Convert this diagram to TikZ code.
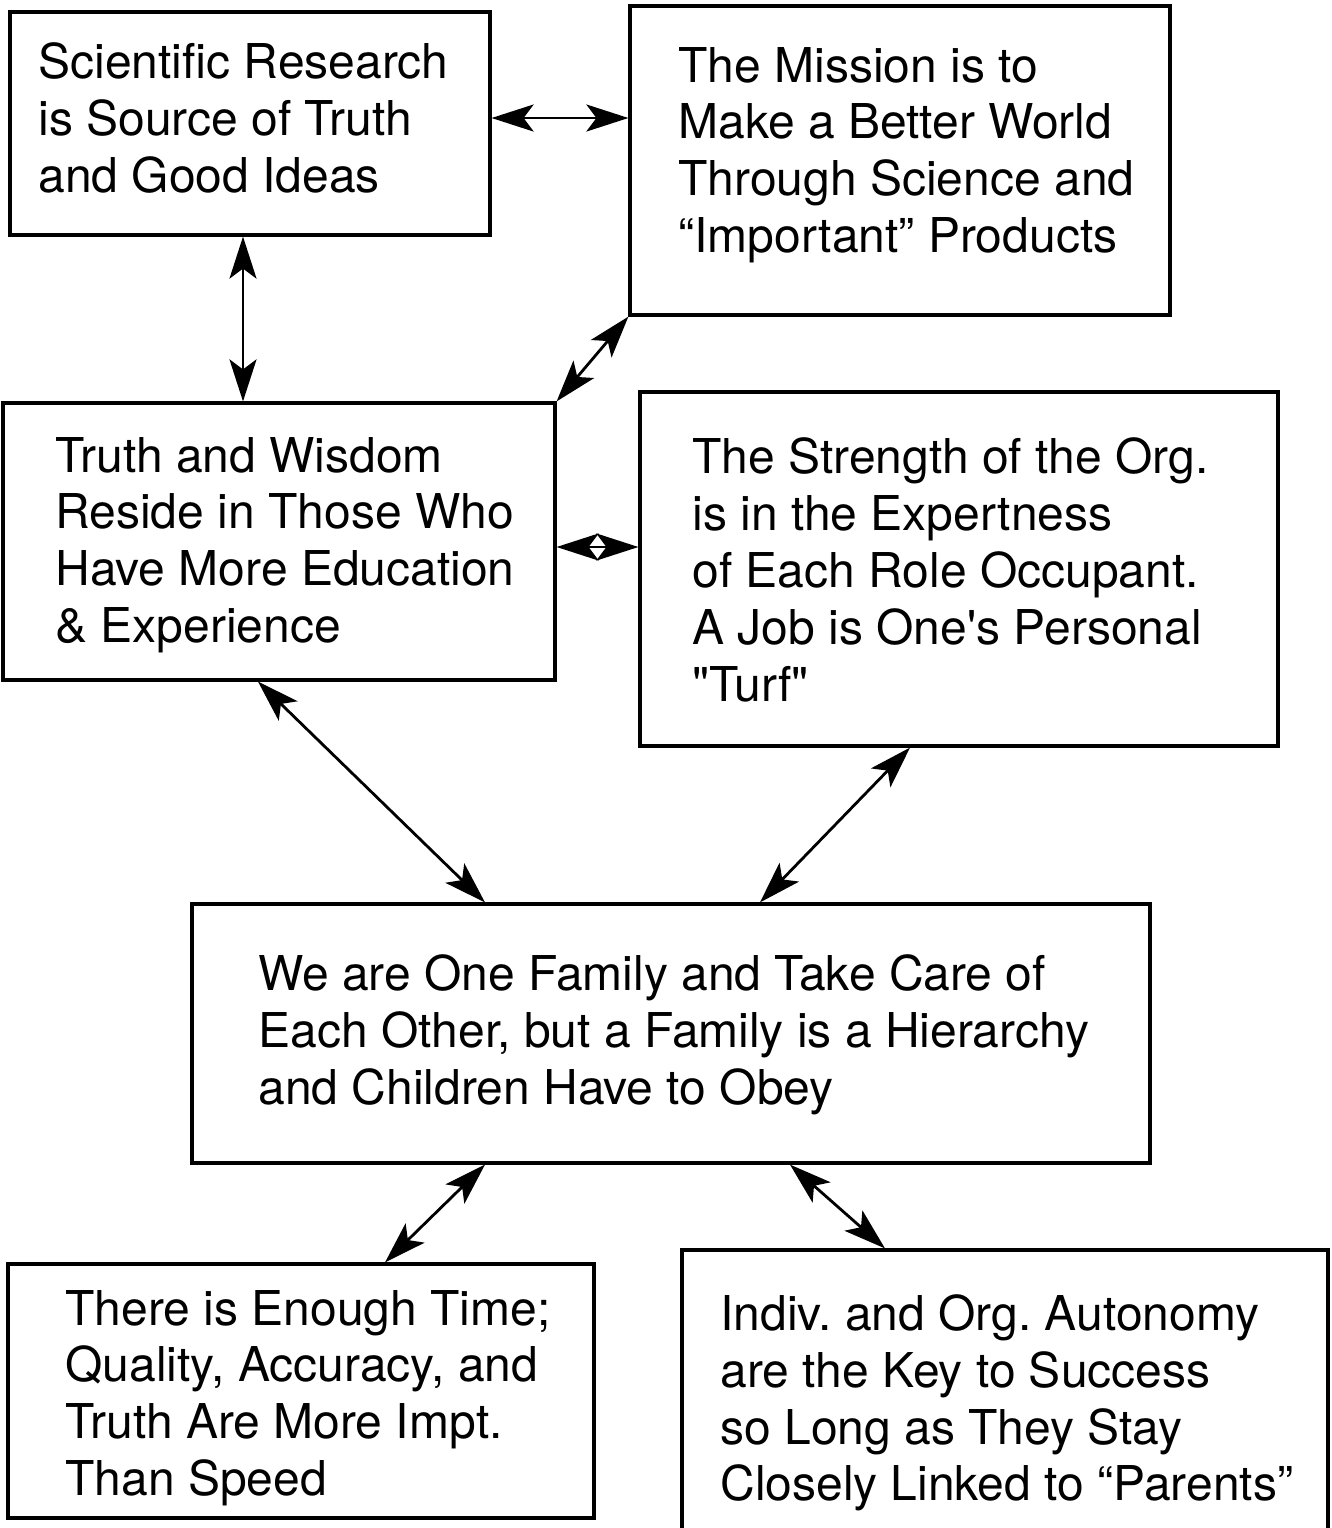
\documentclass[tikz,border=0pt]{standalone}
\usepackage{fontspec}
\newfontfamily\hel{TeX Gyre Heros}
\usetikzlibrary{arrows.meta}
\begin{document}
\frenchspacing
\begin{tikzpicture}[x=0.5pt,y=-0.5pt,
  box/.style={draw=black, line width=1.6pt, rectangle, inner sep=0pt},
  txt/.style={anchor=west, align=left, inner sep=0pt, font=\hel\fontsize{24}{28.4}\selectfont},
  dbl/.style={line width=1.4pt, {Stealth[length=21pt,width=13.5pt,inset=5pt]}-{Stealth[length=21pt,width=13.5pt,inset=5pt]}}]
\fill[white] (0,0) rectangle (1332,1528);
\useasboundingbox (0,0) rectangle (1332,1528);
\clip (0,0) rectangle (1332,1528);
% boxes
\node[box, minimum width=240pt, minimum height=111.5pt] (b1) at (250,123.5) {};
\node[box, minimum width=270pt, minimum height=154.5pt] (b2) at (900,160.5) {};
\node[box, minimum width=276pt, minimum height=138.5pt] (b3) at (279,541.5) {};
\node[box, minimum width=319pt, minimum height=177pt] (b4) at (959,569) {};
\node[box, minimum width=479pt, minimum height=129.5pt] (b5) at (671,1033.5) {};
\node[box, minimum width=293pt, minimum height=127pt] (b6) at (301,1391) {};
\node[box, minimum width=323pt, minimum height=147.5pt] (b7) at (1005,1397.5) {};
% texts
\node[txt] (t1) at (38,118) {Scientific Research\\is Source of Truth\\and Good Ideas};
\node[txt] (t2) at (678,155) {The Mission is to\\Make a Better World\\Through Science and\\“Important” Products};
\node[txt] (t3) at (55,545) {Truth and Wisdom\\Reside in Those Who\\Have More Education\\\& Experience};
\node[txt] (t4) at (692,570) {The Strength of the Org.\\is in the Expertness\\of Each Role Occupant.\\A Job is One's Personal\\"Turf"};
\node[txt] (t5) at (258,1035) {We are One Family and Take Care of\\Each Other, but a Family is a Hierarchy\\and Children Have to Obey};
\node[txt] (t6) at (65,1398) {There is Enough Time;\\Quality, Accuracy, and\\Truth Are More Impt.\\Than Speed};
\node[txt] (t7) at (720,1403) {Indiv. and Org. Autonomy\\are the Key to Success\\so Long as They Stay\\Closely Linked to “Parents”};
% helper coordinates
\coordinate (yA) at (0,118);
\coordinate (xB) at (243,0);
\coordinate (yD) at (0,547);
\coordinate (xE1) at (258,0);
\coordinate (xE2) at (485,0);
\coordinate (xF1) at (910,0);
\coordinate (xF2) at (760,0);
\coordinate (xG1) at (485,0);
\coordinate (xG2) at (385,0);
\coordinate (xH1) at (790,0);
\coordinate (xH2) at (885,0);
% connectors
\draw[dbl] (b1.east |- yA) -- (b2.west |- yA);
\draw[dbl] (b1.south -| xB) -- (b3.north -| xB);
\draw[dbl] (b3.north east) -- (b2.south west);
\draw[dbl] (b3.east |- yD) -- (b4.west |- yD);
\draw[dbl] (b3.south -| xE1) -- (b5.north -| xE2);
\draw[dbl] (b4.south -| xF1) -- (b5.north -| xF2);
\draw[dbl] (b5.south -| xG1) -- (b6.north -| xG2);
\draw[dbl] (b5.south -| xH1) -- (b7.north -| xH2);
\end{tikzpicture}
\end{document}
